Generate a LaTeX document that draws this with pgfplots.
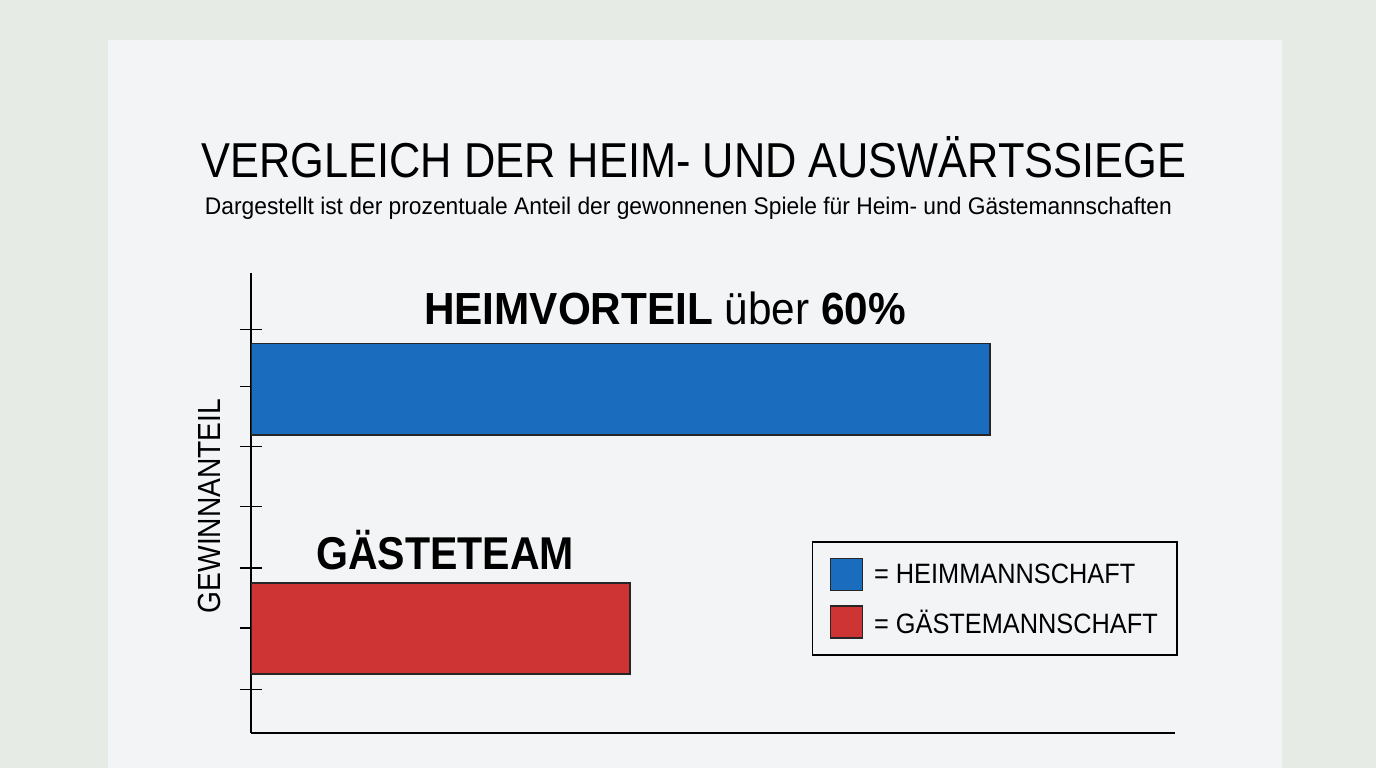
\documentclass[border=0pt]{standalone}
\usepackage{fontspec}
\setmainfont{Liberation Sans}[FakeStretch=0.88]
\newfontfamily\titlefont{Liberation Sans}[FakeStretch=0.885]
\newfontfamily\subfont{Liberation Sans}[FakeStretch=0.95]
\newfontfamily\boldfont{Liberation Sans}[FakeStretch=0.94]
\newfontfamily\gastfont{Liberation Sans}[FakeStretch=0.893]
\newfontfamily\legfont{Liberation Sans}[FakeStretch=0.905]
\usepackage{pgfplots}
\pgfplotsset{compat=1.18}
\definecolor{bg}{HTML}{E7EBE5}
\definecolor{paper}{HTML}{F2F4F6}
\definecolor{heim}{HTML}{1A6CBE}
\definecolor{gast}{HTML}{CF3434}
\begin{document}
\begin{tikzpicture}[x=1pt,y=1pt]
\useasboundingbox (0,0) rectangle (1376,768);
\fill[bg] (0,0) rectangle (1376,768);
\fill[paper] (108,0) rectangle (1282,728);
\node[anchor=base, inner sep=0pt, font=\titlefont\fontsize{49}{55}\selectfont] at (694,590) {VERGLEICH DER HEIM- UND AUSWÄRTSSIEGE};
\node[anchor=base, inner sep=0pt, font=\subfont\fontsize{24}{28}\selectfont] at (688.5,553) {Dargestellt ist der prozentuale Anteil der gewonnenen Spiele für Heim- und Gästemannschaften};
\node[anchor=base, inner sep=0pt, font=\boldfont\fontsize{45}{50}\selectfont] at (665,443) {\textbf{HEIMVORTEIL} über \textbf{60\%}};
\node[anchor=base, inner sep=0pt, font=\gastfont\fontsize{46}{50}\selectfont\bfseries] at (445,198) {GÄSTETEAM};
\node[anchor=base, inner sep=0pt, rotate=90, font=\fontsize{32}{36}\selectfont] at (220,262) {GEWINNANTEIL};
\begin{axis}[
  at={(251pt,35pt)}, anchor=south west,
  scale only axis, width=924pt, height=460pt,
  xmin=0, xmax=80, ymin=0, ymax=7.667,
  axis x line*=bottom, axis y line*=left,
  axis line style={line width=1.6pt, -, black},
  xtick=\empty,
  ytick={0.72,1.75,2.75,3.78,4.77,5.77,6.72},
  yticklabels={},
  ytick pos=left,
  major tick length=22pt, tick align=outside,
  ytick style={line width=1.3pt, black, xshift=11pt},
  xbar,
  legend style={at={(0.607,0.417)}, anchor=north west, draw=black, line width=1.5pt,
    fill=paper, font=\legfont\fontsize{28}{31}\selectfont, row sep=14pt, inner xsep=17pt, inner ysep=16pt},
  legend cell align=left,
  legend image code/.code={\draw[#1, line width=1.5pt] (0pt,-16pt) rectangle (32pt,16pt);},
]
\addplot[xbar, bar shift=0pt, bar width=1.52, fill=heim, draw=black!85, line width=1.6pt] coordinates {(64,5.73)};
\addlegendentry{\hspace*{9pt}= HEIMMANNSCHAFT}
\addplot[xbar, bar shift=0pt, bar width=1.52, fill=gast, draw=black!85, line width=1.6pt] coordinates {(32.8,1.74)};
\addlegendentry{\hspace*{9pt}= GÄSTEMANNSCHAFT}
\end{axis}
\end{tikzpicture}
\end{document}
